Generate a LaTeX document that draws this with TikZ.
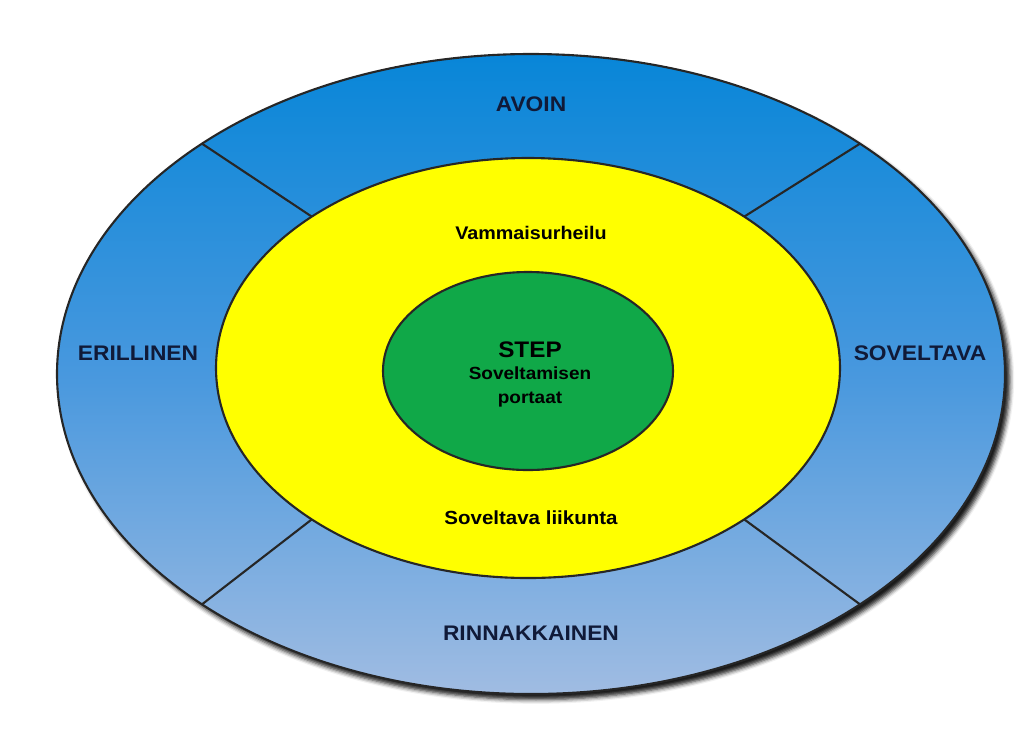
\documentclass[tikz,border=0pt]{standalone}
\usepackage{fontspec}
\setmainfont{Liberation Sans}
\usetikzlibrary{shapes.geometric,shadows.blur}
\definecolor{ringtop}{RGB}{8,134,216}
\definecolor{ringmid}{RGB}{72,152,222}
\definecolor{ringbot}{RGB}{160,188,226}
\definecolor{bandyellow}{RGB}{255,255,0}
\definecolor{coregreen}{RGB}{16,168,72}
\definecolor{labelnavy}{RGB}{16,26,56}
\newcommand{\wide}[1]{\scalebox{1.08}[1]{#1}}

\begin{document}
\begin{tikzpicture}[x=0.025cm,y=-0.025cm,
            disc/.style={ellipse,draw=black!85,line width=1.5pt,inner sep=0pt,outer sep=0pt},
            divider/.style={draw=black!85,line width=1.5pt},
            sector label/.style={font=\bfseries\fontsize{15}{17}\selectfont,text=labelnavy},
            inner label/.style={font=\bfseries\fontsize{13}{15}\selectfont,text=black,align=center},
            ]
            \def\px{0.025cm}
            \useasboundingbox (0,0) rectangle (1020,746);

            \node[disc,minimum width=948*\px,minimum height=640*\px,
                top color=ringtop,bottom color=ringbot,middle color=ringmid,
                blur shadow={shadow xshift=3.5pt,shadow yshift=-4pt,shadow blur radius=3pt,shadow opacity=90}] (outer) at (531,374) {};
            \node[disc,minimum width=624*\px,minimum height=420*\px,fill=bandyellow] (ring) at (528,368) {};
            \node[disc,minimum width=290*\px,minimum height=198*\px,fill=coregreen] (core) at (528,371) {};

            \draw[divider] (outer.145) -- (ring.145);
            \draw[divider] (outer.35) -- (ring.35);
            \draw[divider] (outer.215) -- (ring.215);
            \draw[divider] (outer.325) -- (ring.325);

            \node[sector label] (avoin) at (531,104) {\wide{AVOIN}};
            \node[sector label] (erillinen) at (138,353) {\wide{ERILLINEN}};
            \node[sector label] (soveltava) at (920,353) {\wide{SOVELTAVA}};
            \node[sector label] (rinnakkainen) at (531,633) {\wide{RINNAKKAINEN}};

            \node[inner label] (vammais) at (531,233) {\wide{Vammaisurheilu}};
            \node[inner label,font=\bfseries\fontsize{13.5}{15}\selectfont] (liikunta) at (531,518) {\wide{Soveltava liikunta}};
            \node[inner label,font=\bfseries\fontsize{16}{18}\selectfont] (step) at (530,350) {\wide{STEP}};
            \node[inner label,font=\bfseries\fontsize{12.5}{17}\selectfont] (portaat) at (530,387) {\wide{Soveltamisen}\\\wide{portaat}};
        \end{tikzpicture}
\end{document}
